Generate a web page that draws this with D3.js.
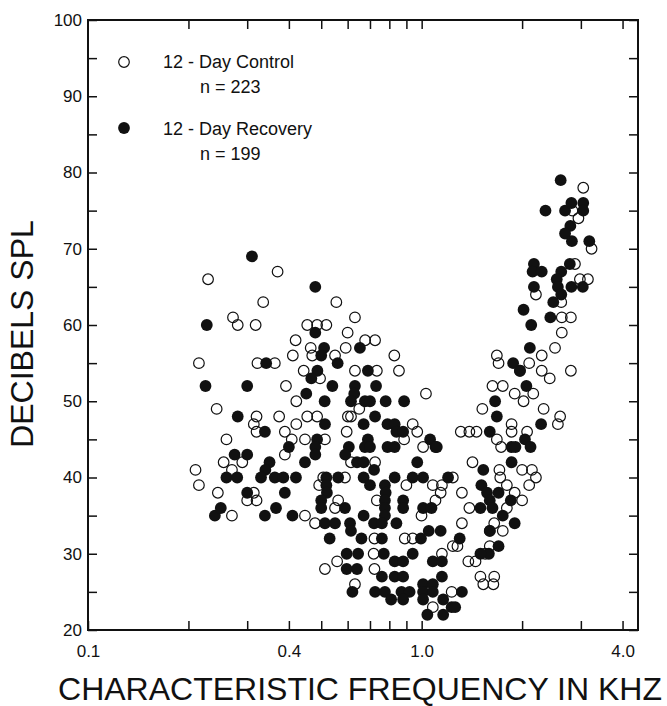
<!DOCTYPE html>
<html>
<head>
<meta charset="utf-8">
<script src="https://cdn.jsdelivr.net/npm/d3@7"></script>
<style>
  body { margin: 0; background: #fff; }
  svg text { font-family: "Liberation Sans", Arial, sans-serif; fill: #111; }
</style>
</head>
<body>
<div id="chart"></div>
<script>
// tick values
const xTicks = [0.2, 0.3, 0.4, 0.5, 0.6, 0.7, 0.8, 0.9, 1, 2, 3, 4];
const xLabels = [0.1, 0.4, 1, 4];
const yTicks = d3.range(20, 101, 5);

// 12-day control, [kHz, dB SPL]
const control = [
  [0.37,67],[0.229,66],[0.335,63],[0.555,63],[0.272,61],[0.631,61],[0.281,60],[0.318,60],[0.454,60],[0.486,60],
  [0.518,60],[0.60,59],[0.419,58],[0.677,58],[0.725,58],[0.465,57],[0.592,57],[0.411,56],[0.47,56],[0.55,56],
  [0.828,56],[0.215,55],[0.322,55],[0.363,55],[0.443,54],[0.631,54],[0.734,54],[0.855,54],[0.496,53],[0.392,52],
  [0.243,49],[0.421,50],[0.32,48],[0.374,48],[0.486,48],[0.601,48],[0.614,48],[0.65,49],[1.03,51],[0.421,47],
  [0.454,48],[0.314,47],[0.32,46],[0.389,46],[0.408,45],[0.389,43],[0.447,45],[0.513,45],[0.596,46],[0.886,45],
  [0.94,47],[0.97,46],[1.01,44],[1.31,46],[1.39,46],[1.46,46],[1.52,49],[1.63,52],[1.68,56],[1.70,55],
  [1.68,45],[1.42,42],[1.39,36],[0.614,42],[0.725,42],[0.507,40],[0.589,40],[0.90,39],[1.08,39],[1.15,39],
  [1.24,40],[1.32,38],[0.493,39],[0.314,38],[0.32,37],[0.447,35],[0.562,37],[0.55,36],[0.734,37],[1.10,37],
  [1.14,38],[0.999,35],[0.479,34],[0.722,32],[0.89,32],[0.94,32],[1.32,34],[1.24,31],[1.28,31],[1.60,33],
  [0.558,29],[0.718,30],[1.15,30],[1.38,29],[0.513,28],[0.722,28],[0.631,26],[1.53,26],[1.64,26],[1.23,25],
  [1.08,23],[3.05,78],[2.83,75],[2.95,74],[3.23,70],[2.88,68],[2.98,66],[3.15,66],[2.20,64],[2.62,63],
  [2.63,61],[2.80,61],[2.63,59],[2.51,57],[1.97,54],[2.10,55],[2.29,56],[2.29,54],[2.42,53],[2.80,54],
  [1.75,52],[2.16,51],[1.90,51],[2.02,50],[2.32,49],[1.86,47],[1.86,46],[2.60,48],[2.56,47],[2.07,46],
  [1.73,44],[1.71,41],[2.0,41],[2.14,41],
  [0.21,41],[0.215,39],[0.26,45],[0.255,42],[0.27,41],[0.29,42],[0.245,38],[0.27,35],[0.30,37],
  [1.72,40],[1.80,39],[1.90,38],[2.0,37],[2.1,39],[1.8,36],[1.65,34],[1.75,33],[1.6,31],[1.55,30],
  [1.45,29],[1.5,27],[1.65,27],[2.2,40]
];

// 12-day recovery, [kHz, dB SPL]
const recovery = [
  [0.31,69],[0.48,65],[0.227,60],[0.48,59],[0.51,57],[0.653,57],[0.50,56],[0.342,55],[0.56,55],[0.487,54],
  [0.69,54],[0.467,53],[0.225,52],[0.30,52],[0.54,52],[0.631,52],[0.451,51],[0.628,51],[0.512,50],[0.614,50],
  [0.676,50],[0.281,48],[0.513,47],[0.73,52],[0.70,50],[0.78,50],[0.886,50],[0.725,48],[0.67,47],[0.79,47],
  [0.83,47],[0.84,46],[0.88,46],[0.339,46],[0.40,44],[0.486,45],[0.48,44],[0.48,43],[0.605,44],[0.59,43],
  [0.69,45],[0.676,44],[0.70,44],[0.79,44],[0.83,44],[1.06,45],[1.10,44],[1.11,44],[1.60,46],[1.66,50],
  [1.68,48],[1.53,41],[1.51,39],[1.57,38],[1.60,37],[1.50,36],[1.63,36],[0.64,42],[0.67,42],[0.97,42],
  [0.35,42],[0.34,41],[0.447,42],[0.72,41],[0.363,40],[0.385,40],[0.42,40],[0.518,40],[0.562,40],[0.67,40],
  [0.70,39],[0.83,40],[0.94,40],[1.01,40],[1.20,40],[0.776,39],[0.78,38],[0.776,37],[0.776,36],[0.776,35],
  [0.88,37],[0.88,36],[0.518,39],[0.52,38],[0.50,37],[0.50,36],[0.389,38],[0.339,35],[0.366,36],[0.41,35],
  [0.589,36],[1.01,36],[1.07,36],[0.67,35],[0.513,34],[0.55,34],[0.61,34],[0.614,33],[0.66,32],[0.72,34],
  [0.76,34],[0.84,34],[0.53,32],[0.76,32],[0.995,32],[1.05,33],[1.14,33],[1.30,32],[1.59,30],[0.596,30],
  [0.645,30],[0.77,30],[0.83,29],[0.88,29],[0.94,30],[1.08,29],[1.15,29],[0.596,28],[0.64,28],[0.76,27],
  [0.83,27],[0.88,27],[1.01,26],[1.08,26],[1.15,27],[0.62,25],[0.725,25],[0.776,25],[0.81,24],[0.87,25],
  [0.92,25],[1.01,25],[1.01,24],[1.08,25],[1.16,24],[1.23,23],[1.04,22],[1.16,22],[1.32,25],[0.88,24],
  [1.26,23],[2.61,79],[2.35,75],[2.69,75],[2.81,76],[3.05,76],[3.05,75],[2.79,73],[2.69,72],[2.82,71],
  [3.18,71],[2.17,68],[2.15,67],[2.29,67],[2.78,68],[2.62,67],[2.54,66],[2.56,65],[2.62,64],[2.81,65],
  [3.04,65],[2.17,65],[2.48,63],[2.02,62],[2.43,61],[2.13,60],[2.11,57],[1.88,55],[1.97,54],[2.06,52],
  [2.28,47],[2.04,45],[2.12,44],[1.86,44],[1.91,44],[1.86,42],
  [0.275,43],[0.24,35],[0.26,40],[0.28,40],[0.30,38],[0.25,36],[0.30,43],[0.33,40],
  [1.7,38],[1.85,37],[1.75,35],[1.9,34],[1.6,33],[1.7,31],[1.5,30]
];

const width = 667, height = 706;
const mLeft = 88, mRight = 638, mTop = 20, mBottom = 630;
const r = 5.3;

const svg = d3.select('#chart').append('svg')
  .attr('width', width)
  .attr('height', height);

const x = d3.scaleLog().domain([0.1, 4.45]).range([mLeft, mRight]);
const y = d3.scaleLinear().domain([20, 100]).range([mBottom, mTop]);

// axes, ticks pointing inward
const fmtX = d => xLabels.includes(d) ? d3.format('.1f')(d) : '';
const fmtY = d => d % 10 === 0 ? d : '';

svg.append('g')
  .attr('transform', `translate(0,${mBottom})`)
  .call(d3.axisBottom(x).tickValues([0.1].concat(xTicks)).tickFormat(fmtX).tickSize(-9).tickPadding(15));
svg.append('g')
  .attr('transform', `translate(0,${mTop})`)
  .call(d3.axisTop(x).tickValues(xTicks).tickFormat('').tickSize(-9));
svg.append('g')
  .attr('transform', `translate(${mLeft},0)`)
  .call(d3.axisLeft(y).tickValues(yTicks).tickFormat(fmtY).tickSize(-9).tickPadding(6));
svg.append('g')
  .attr('transform', `translate(${mRight},0)`)
  .call(d3.axisRight(y).tickValues(yTicks).tickFormat('').tickSize(-9));

svg.selectAll('.domain').remove();
svg.selectAll('.tick line').attr('stroke', '#111').attr('stroke-width', 1.5);
svg.selectAll('.tick text').style('font-size', '17px').attr('fill', '#111');

svg.append('rect')
  .attr('x', mLeft).attr('y', mTop)
  .attr('width', mRight - mLeft).attr('height', mBottom - mTop)
  .attr('fill', 'none').attr('stroke', '#111').attr('stroke-width', 2);

// points
svg.append('g').selectAll('circle')
  .data(control)
  .join('circle')
  .attr('cx', d => x(d[0]))
  .attr('cy', d => y(d[1]))
  .attr('r', r)
  .attr('fill', 'none')
  .attr('stroke', '#111')
  .attr('stroke-width', 1.2);

svg.append('g').selectAll('circle')
  .data(recovery)
  .join('circle')
  .attr('cx', d => x(d[0]))
  .attr('cy', d => y(d[1]))
  .attr('r', r + 0.6)
  .attr('fill', '#111');

// legend
const legend = svg.append('g').style('font-size', '18px');
legend.append('circle').attr('cx', 124).attr('cy', 62).attr('r', r)
  .attr('fill', 'none').attr('stroke', '#111').attr('stroke-width', 1.2);
legend.append('text').attr('x', 163).attr('y', 68).text('12 - Day Control');
legend.append('text').attr('x', 200).attr('y', 93).text('n = 223');
legend.append('circle').attr('cx', 124).attr('cy', 128).attr('r', r + 0.6).attr('fill', '#111');
legend.append('text').attr('x', 163).attr('y', 135).text('12 - Day Recovery');
legend.append('text').attr('x', 200).attr('y', 160).text('n = 199');

// axis titles
svg.append('text')
  .attr('x', 360).attr('y', 700)
  .attr('text-anchor', 'middle')
  .style('font-size', '32px')
  .text('CHARACTERISTIC FREQUENCY IN KHZ');

svg.append('text')
  .attr('transform', 'translate(33,334) rotate(-90)')
  .attr('text-anchor', 'middle')
  .style('font-size', '32px')
  .text('DECIBELS SPL');
</script>
</body>
</html>
